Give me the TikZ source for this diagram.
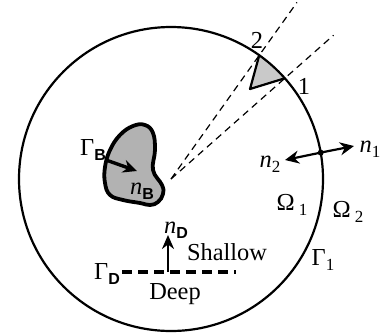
\documentclass[tikz,border=0pt]{standalone}
\usepackage{fontspec}
\setmainfont{Liberation Serif}
\newfontfamily\subfont{Liberation Sans}
\usetikzlibrary{arrows.meta,calc}
\newcommand{\lblsub}[2]{#1\raisebox{-0.45ex}{\fontsize{8}{8}\selectfont\subfont\bfseries #2}}
\newcommand{\lblnum}[2]{#1\raisebox{-0.45ex}{\fontsize{8.5}{8}\selectfont #2}}

\begin{document}
\begin{tikzpicture}[x=0.5pt,y=-0.5pt,font=\fontsize{12.2}{14}\selectfont,
  lab/.style={inner sep=0pt},
  raydash/.style={line width=0.6pt,dash pattern=on 3.5pt off 2.5pt},
  vec/.style={line width=1.1pt,-{Stealth[length=7pt,width=6.5pt]}}]
\definecolor{shade}{gray}{0.70}
\useasboundingbox (0,0) rectangle (386,333);
\coordinate (c) at (171,179);
\coordinate (p1) at ($(c)+(-41.5:152)$);
\coordinate (p2) at ($(c)+(-54.5:152)$);
\coordinate (q) at (250,89);
\coordinate (e1) at ($(c)+(-41.5:217)$);
\coordinate (e2) at ($(c)+(-54.5:217)$);
\fill[shade!70] (q) -- (p2) arc[start angle=-54.5,end angle=-41.5,radius=152] -- cycle;
\draw[line width=1.1pt] (c) circle[radius=152];
\draw[raydash] (c) -- (e1);
\draw[raydash] (c) -- (e2);
\draw[line width=1.1pt,line join=round] (p2) -- (q) -- (p1);
\node[lab] (l2) at (257,40) {2};
\node[lab] (l1) at (304,86) {1};
\draw[line width=1.9pt,fill=shade] plot[smooth cycle,tension=0.7] coordinates {(145,125) (153,133) (155,150) (153,170) (162,185) (163,194) (158,202) (150,205) (140,203) (123,200) (110,195) (105,183) (105,167) (110,150) (120,135) (133,126)};
\coordinate (b0) at (106,160);
\coordinate (b1) at (137,171);
\draw[line width=1.7pt,-{Stealth[length=7pt,width=6.5pt]}] (b0) -- (b1);
\node[lab] (gB) at (93,150) {\lblsub{Γ}{B}};
\node[lab] (nB) at (142,191) {\lblsub{\textit{n}}{B}};
\coordinate (m) at ($(c)+(-10:152)$);
\coordinate (m1) at (354,146);
\coordinate (m2) at (285,160);
\fill (m) circle[radius=3];
\draw[vec] (m) -- (m1);
\draw[vec] (m) -- (m2);
\node[lab] (n1) at (370,149) {\lblnum{\textit{n}}{1}};
\node[lab] (n2) at (270,164) {\lblnum{\textit{n}}{2}};
\node[lab] (o1) at (292,205) {\lblnum{Ω\,}{1}};
\node[lab] (o2) at (348,212) {\lblnum{Ω\,}{2}};
\node[lab] (g1) at (323,260) {\lblnum{Γ}{1}};
\node[lab] (gD) at (107,274) {\lblsub{Γ}{D}};
\coordinate (d0) at (122,272);
\coordinate (d1) at (236,272);
\draw[line width=1.6pt,dash pattern=on 5pt off 3pt] (d0) -- (d1);
\coordinate (a0) at (168,272);
\coordinate (a1) at (168,235);
\draw[line width=1.4pt,-{Stealth[length=7pt,width=6pt]}] (a0) -- (a1);
\node[lab] (nD) at (176,230) {\lblsub{\textit{n}}{D}};
\node[lab] (sh) at (227,252) {Shallow};
\node[lab] (dp) at (175,294) {Deep};
\end{tikzpicture}
\end{document}
